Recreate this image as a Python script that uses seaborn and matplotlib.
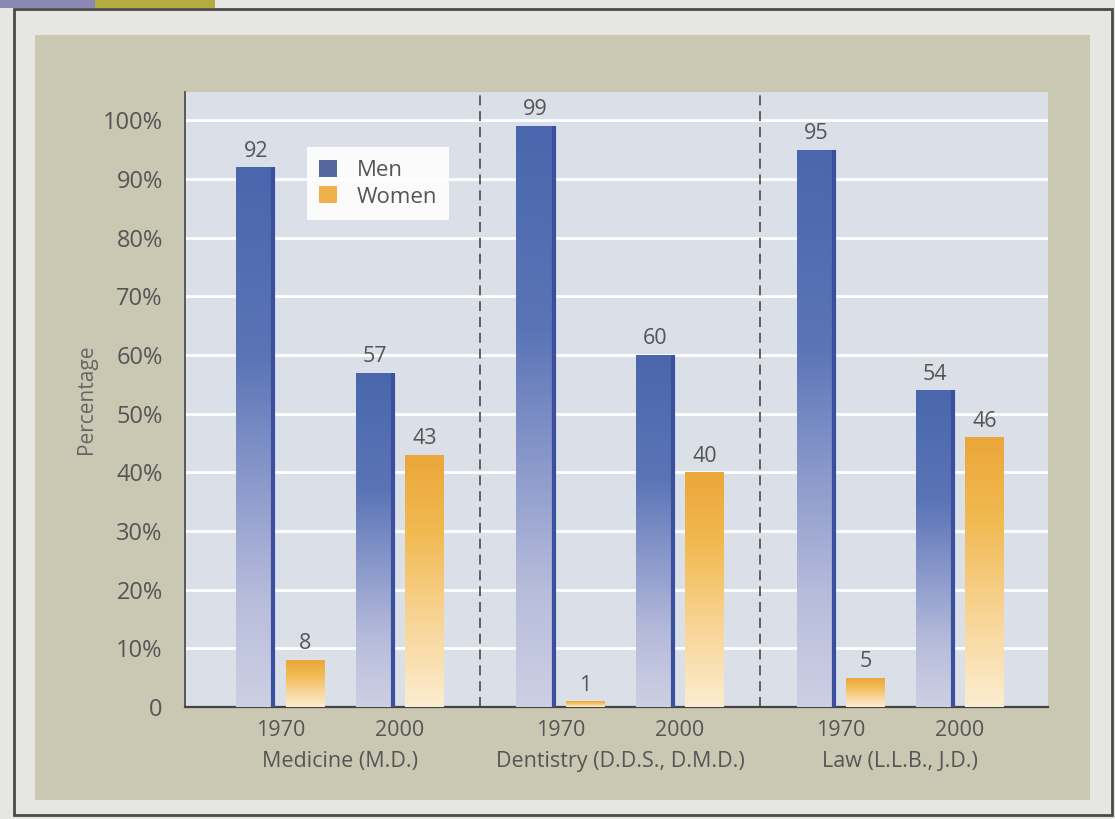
import numpy as np
import pandas as pd
import matplotlib
matplotlib.use("Agg")
import matplotlib.pyplot as plt
from matplotlib.colors import LinearSegmentedColormap
from matplotlib.patches import Rectangle, Patch
from matplotlib.transforms import blended_transform_factory
import seaborn as sns

# Degrees awarded, by field and year (percent)
fields = ["Medicine (M.D.)", "Dentistry (D.D.S., D.M.D.)", "Law (L.L.B., J.D.)"]
years = ["1970", "2000"]
men = [92, 57, 99, 60, 95, 54]
women = [8, 43, 1, 40, 5, 46]
ytick_labels = ["0", "10%", "20%", "30%", "40%", "50%", "60%", "70%", "80%", "90%", "100%"]

sns.set_style("white")
plt.rcParams["font.family"] = ["Open Sans", "DejaVu Sans"]

GROUP_STEP = 2.35  # spacing between field groups, in year-slot units
rows = []
for fi, field in enumerate(fields):
    for yi, year in enumerate(years):
        k = fi * len(years) + yi
        pos = fi * GROUP_STEP + yi
        rows.append(dict(field=field, year=year, pos=pos, sex="Men", value=men[k]))
        rows.append(dict(field=field, year=year, pos=pos, sex="Women", value=women[k]))
df = pd.DataFrame(rows)
positions = sorted(df["pos"].unique())

fig = plt.figure(figsize=(11.15, 8.19), dpi=100, facecolor="#e6e6e2")


def page_rect(x0, y0, x1, y1, **kw):
    """Rectangle in pixel coordinates measured from the top-left corner."""
    r = Rectangle((x0 / 1115, 1 - y1 / 819), (x1 - x0) / 1115, (y1 - y0) / 819,
                  transform=fig.transFigure, zorder=-10, **kw)
    fig.add_artist(r)


# page decorations: frame, header tab and khaki panel
page_rect(14, 9, 1112, 815, fill=False, edgecolor="#4a4a4a", lw=2)
page_rect(0, 0, 95, 8, color="#8c88b4", lw=0)
page_rect(95, 0, 215, 8, color="#b4ac3e", lw=0)
page_rect(35, 35, 1090, 800, color="#cac8b3", lw=0)

ax = fig.add_axes([185 / 1115, 1 - 707 / 819, 863 / 1115, 615 / 819])
ax.set_facecolor("#dadfe8")

palette = {"Men": "#4e68aa", "Women": "#eba73c"}
sns.barplot(data=df, x="pos", y="value", hue="sex", hue_order=["Men", "Women"],
            native_scale=True, width=0.83, gap=0.22, palette=palette,
            errorbar=None, legend=False, ax=ax, zorder=3)

cmaps = {
    "Men": LinearSegmentedColormap.from_list(
        "men", [(0.0, "#cdd0e4"), (0.2, "#b7bcdb"), (0.45, "#8494c9"),
                (0.65, "#5a74b6"), (1.0, "#4a67ad")]),
    "Women": LinearSegmentedColormap.from_list(
        "women", [(0.0, "#fcedd0"), (0.35, "#f8d494"), (0.7, "#f1b950"),
                  (1.0, "#eba73a")]),
}
grad = np.linspace(0, 1, 256).reshape(-1, 1)

for sex, cont in zip(["Men", "Women"], ax.containers):
    for bar in cont:
        x, w, h = bar.get_x(), bar.get_width(), bar.get_height()
        bar.set_facecolor("none")
        bar.set_edgecolor("none")
        im = ax.imshow(grad, cmap=cmaps[sex], origin="lower", aspect="auto",
                       extent=[x, x + w, 0, h], zorder=3, interpolation="bilinear")
        im.set_clip_path(bar)
        if sex == "Men":
            ax.vlines(x + w - 0.012, 0, h, color="#3a4f9e", lw=3, zorder=4)
    ax.bar_label(cont, labels=[f"{v:g}" for v in cont.datavalues], padding=4,
                 fontsize=15.5, color="#555555")

# dashed separators between the fields
for gi in range(1, len(fields)):
    xsep = (positions[2 * gi - 1] + positions[2 * gi]) / 2
    ax.axvline(xsep, color="#4a4a4a", lw=1.2, ls=(0, (6, 3.5)), zorder=2)

ax.set_xlim(-0.80, 6.44)
ax.set_ylim(0, 104.8)
ax.set_yticks(range(0, 101, 10), ytick_labels)
ax.set_xticks(positions, years * len(fields))
ax.tick_params(axis="both", length=0, labelcolor="#555555")
ax.tick_params(axis="y", pad=16, labelsize=17)
ax.tick_params(axis="x", pad=9, labelsize=15.5)
ax.grid(axis="y", color="white", lw=2)
ax.set_axisbelow(True)
ax.set_xlabel("")
ax.set_ylabel("Percentage", fontsize=15, color="#666666", labelpad=4)

trans = blended_transform_factory(ax.transData, ax.transAxes)
for gi, field in enumerate(fields):
    xc = (positions[2 * gi] + positions[2 * gi + 1]) / 2
    ax.text(xc, -0.088, field, transform=trans, ha="center", va="center",
            fontsize=15.5, color="#555555")

for side in ["top", "right"]:
    ax.spines[side].set_visible(False)
ax.spines["left"].set_color("#444444")
ax.spines["left"].set_linewidth(1.2)
ax.spines["bottom"].set_color("#444444")
ax.spines["bottom"].set_linewidth(1.6)

handles = [Patch(facecolor="#56679f", edgecolor="none", label="Men"),
           Patch(facecolor="#f0b04c", edgecolor="none", label="Women")]
leg = ax.legend(handles=handles, loc="upper left", bbox_to_anchor=(0.128, 0.928),
                frameon=True, fontsize=16, handlelength=0.8, handleheight=0.8,
                borderpad=0.55, labelspacing=0.25, handletextpad=0.9)
leg.get_frame().set_facecolor("white")
leg.get_frame().set_edgecolor("none")
leg.get_frame().set_alpha(0.9)
leg.get_frame().set_boxstyle("square", pad=0)
for t in leg.get_texts():
    t.set_color("#555555")

fig.savefig("out.png", dpi=100, facecolor=fig.get_facecolor())
